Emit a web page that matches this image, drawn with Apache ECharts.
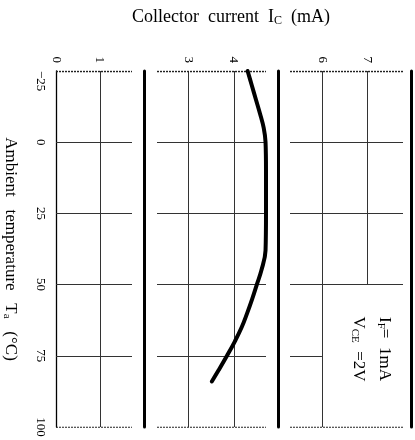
<!DOCTYPE html>
<html><head><meta charset="utf-8">
<script src="https://cdn.jsdelivr.net/npm/echarts@6/dist/echarts.min.js"></script>
<style>html,body{margin:0;padding:0;background:#fff}#c{width:415px;height:440px}</style>
</head><body><div id="c"></div>
<script>
// ---- data ----
const tempTicks = [-25, 0, 25, 50, 75, 100];
const panelTicks = [[0, 1], [3, 4], [6, 7]];
const panelRanges = [[0, 1.733], [2.326, 4.70], [5.29, 7.8]];
const curveTemp = [-25, -20, -15, -10, -5, 0, 10, 25, 38, 45, 50, 55, 60, 65, 70, 75, 80, 84];
const curveIc   = [4.30, 4.39, 4.48, 4.57, 4.65, 4.69, 4.70, 4.70, 4.69, 4.60, 4.50, 4.40, 4.29, 4.17, 4.02, 3.85, 3.67, 3.52];
const titleText = 'Collector  current  I{sub|C}  (mA)';
const xName = 'Ambient   temperature   T{sub|a}   (°C)';
const condLines = ['I{sub|F}=  1mA', 'V{sub|CE}  =2V'];

const FONT = '"Liberation Serif", "DejaVu Serif", serif';
const tMin = tempTicks[0], tMax = tempTicks[tempTicks.length - 1];

const gridsLayout = [
  {left: 54, top: 71, width: 78, height: 356},
  {left: 157, top: 71, width: 109, height: 356},
  {left: 290, top: 71, width: 113, height: 356}
];
const sepOffset = [12, 12, 8];

const grid = [], xAxis = [], yAxis = [], series = [];
gridsLayout.forEach((g, i) => {
  grid.push(Object.assign({containLabel: false}, g));
  xAxis.push({
    type: 'value', gridIndex: i, position: 'top',
    min: panelRanges[i][0], max: panelRanges[i][1],
    axisLine: {show: false}, axisTick: {show: false}, splitLine: {show: false},
    axisLabel: {customValues: panelTicks[i], rotate: -90, margin: 8,
      fontFamily: FONT, fontSize: 13, color: '#000'}
  });
  yAxis.push({
    type: 'value', gridIndex: i, inverse: true, min: tMin, max: tMax, interval: 25,
    position: 'left',
    axisLine: {show: i === 0, onZero: false, lineStyle: {color: '#000', width: 1.3}},
    axisTick: {show: false}, splitLine: {show: false},
    axisLabel: {show: i === 0, rotate: -90, margin: 9, fontFamily: FONT, fontSize: 13,
      color: '#000', alignMinLabel: 'left',
      formatter: v => String(v).replace('-', '\u2212')},
    name: i === 0 ? xName : '',
    nameLocation: 'middle', nameRotate: -90, nameGap: 37,
    nameTextStyle: {fontFamily: FONT, fontSize: 17, color: '#000',
      rich: {sub: {fontFamily: FONT, fontSize: 11, color: '#000', padding: [7, 0, 0, 0]}}}
  });
  yAxis.push({
    type: 'value', gridIndex: i, inverse: true, min: tMin, max: tMax,
    position: 'right', offset: sepOffset[i],
    axisLine: {show: true, onZero: false, lineStyle: {color: '#000', width: 3}},
    axisTick: {show: false}, axisLabel: {show: false}, splitLine: {show: false}
  });

  const [lo, hi] = panelRanges[i];
  const segs = [];
  tempTicks.slice(1, -1).forEach(t => {
    let right = hi;
    if (i === 2 && t === 75) right = panelTicks[2][0];
    segs.push({coords: [[lo, t], [right, t]]});
  });
  panelTicks[i].forEach(v => {
    if (i === 0 && v === 0) return;
    let bottom = tMax;
    if (i === 2 && v === 7) bottom = 50;
    segs.push({coords: [[v, tMin], [v, bottom]]});
  });
  series.push({
    type: 'lines', coordinateSystem: 'cartesian2d', xAxisIndex: i, yAxisIndex: 2 * i,
    polyline: false, silent: true, z: 1,
    lineStyle: {color: '#333', width: 1, opacity: 1},
    data: segs
  });
  series.push({
    type: 'lines', coordinateSystem: 'cartesian2d', xAxisIndex: i, yAxisIndex: 2 * i,
    polyline: false, silent: true, z: 1,
    lineStyle: {color: '#222', width: 1.4, opacity: 1, type: [2, 1]},
    data: [{coords: [[lo, tMin], [hi, tMin]]}, {coords: [[lo, tMax], [hi, tMax]]}]
  });
});

series.push({
  type: 'line', xAxisIndex: 1, yAxisIndex: 2, clip: false, z: 5,
  smooth: 0.4, symbol: 'none',
  lineStyle: {color: '#000', width: 4, cap: 'round'},
  data: curveTemp.map((t, k) => [curveIc[k], t])
});

const chart = echarts.init(document.getElementById('c'), null, {renderer: 'canvas'});
chart.setOption({
  backgroundColor: '#fff',
  animation: false,
  title: {
    text: titleText, left: 127, top: 3,
    textStyle: {fontFamily: FONT, fontSize: 18, fontWeight: 'normal', color: '#000',
      rich: {sub: {fontFamily: FONT, fontSize: 12, color: '#000', padding: [7, 0, 0, 0]}}}
  },
  grid, xAxis, yAxis, series,
  graphic: condLines.map((txt, k) => ({
    type: 'text', x: 384 - k * 26, y: 349, rotation: -Math.PI / 2,
    style: {text: txt, fontFamily: FONT, fontSize: 17, fill: '#000',
      align: 'center', verticalAlign: 'middle',
      rich: {sub: {fontFamily: FONT, fontSize: 11, fill: '#000', padding: [7, 0, 0, 0]}}}
  }))
});
</script></body></html>
